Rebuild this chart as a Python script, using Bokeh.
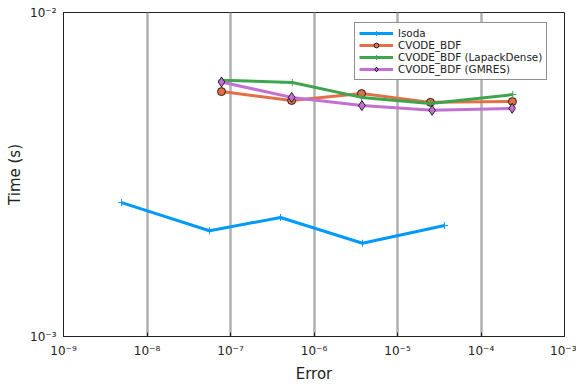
from bokeh.plotting import figure
from bokeh.models import Range1d, FixedTicker, CustomJSTickFormatter, Legend, LegendItem
from bokeh.embed import file_html
from bokeh.resources import INLINE

# Data
lsoda_err = [4.96e-9, 5.6e-8, 3.97e-7, 3.81e-6, 3.66e-5]
lsoda_time = [2.59e-3, 2.12e-3, 2.33e-3, 1.94e-3, 2.20e-3]

bdf_err = [7.8e-8, 5.4e-7, 3.71e-6, 2.48e-5, 2.38e-4]
bdf_time = [5.70e-3, 5.35e-3, 5.62e-3, 5.28e-3, 5.31e-3]

lapack_err = [7.8e-8, 5.5e-7, 3.71e-6, 2.48e-5, 2.40e-4]
lapack_time = [6.18e-3, 6.08e-3, 5.47e-3, 5.24e-3, 5.58e-3]

gmres_err = [7.8e-8, 5.4e-7, 3.75e-6, 2.6e-5, 2.36e-4]
gmres_time = [6.10e-3, 5.47e-3, 5.16e-3, 4.99e-3, 5.06e-3]

x_ticks = [1e-9, 1e-8, 1e-7, 1e-6, 1e-5, 1e-4, 1e-3]
y_ticks = [1e-3, 1e-2]

labels = ["lsoda", "CVODE_BDF", "CVODE_BDF (LapackDense)", "CVODE_BDF (GMRES)"]
colors = ["#009AFA", "#E36F47", "#3EA44E", "#C271D2"]

FONT = "DejaVu Sans"

p = figure(frame_width=501, frame_height=324, x_axis_type="log", y_axis_type="log",
           x_range=Range1d(1e-9, 1e-3), y_range=Range1d(1e-3, 1e-2),
           output_backend="svg", toolbar_location=None,
           min_border_left=63, min_border_right=12, min_border_top=12, min_border_bottom=48)

fmt = CustomJSTickFormatter(code="""
const sup = {"-":"\u207b","0":"\u2070","1":"\u00b9","2":"\u00b2","3":"\u00b3","4":"\u2074","5":"\u2075","6":"\u2076","7":"\u2077","8":"\u2078","9":"\u2079"};
const e = Math.round(Math.log10(tick));
return "10" + String(e).split("").map(c => sup[c]).join("");
""")

for ax in (p.xaxis[0], p.yaxis[0]):
    ax.formatter = fmt
    ax.minor_tick_line_color = None
    ax.major_tick_in = 4
    ax.major_tick_out = 0
    ax.axis_line_color = "#222222"
    ax.major_tick_line_color = "#222222"
    ax.major_label_text_font = FONT
    ax.major_label_text_font_size = "12px"
    ax.major_label_text_color = "#222222"
    ax.axis_label_text_font = FONT
    ax.axis_label_text_font_size = "15px"
    ax.axis_label_text_font_style = "normal"
    ax.axis_label_text_color = "#222222"

p.xaxis.ticker = FixedTicker(ticks=x_ticks)
p.yaxis.ticker = FixedTicker(ticks=y_ticks)
p.xaxis.axis_label = "Error"
p.yaxis.axis_label = "Time (s)"
p.xaxis.major_label_standoff = 7
p.yaxis.major_label_standoff = 7
p.xaxis.axis_label_standoff = 4
p.yaxis.axis_label_standoff = 3

p.xgrid.grid_line_color = "#b0b0b0"
p.xgrid.grid_line_width = 2.5
p.ygrid.grid_line_color = None
p.outline_line_color = "#222222"
p.outline_line_width = 1
p.outline_line_alpha = 1

lw = 3
r1l = p.line(lsoda_err, lsoda_time, line_color=colors[0], line_width=lw)
r1m = p.scatter(lsoda_err, lsoda_time, marker="cross", size=7, line_color=colors[0], line_width=1)

r2l = p.line(bdf_err, bdf_time, line_color=colors[1], line_width=lw)
r2m = p.scatter(bdf_err, bdf_time, marker="circle", size=8, fill_color=colors[1], line_color="black", line_width=0.8)

r3l = p.line(lapack_err, lapack_time, line_color=colors[2], line_width=lw)
r3m = p.scatter(lapack_err, lapack_time, marker="cross", size=7, line_color=colors[2], line_width=1)

r4l = p.line(gmres_err, gmres_time, line_color=colors[3], line_width=lw)
r4m = p.scatter(gmres_err, gmres_time, marker="diamond", size=10, fill_color=colors[3], line_color="black", line_width=0.8)

legend = Legend(items=[
    LegendItem(label=labels[0], renderers=[r1l, r1m]),
    LegendItem(label=labels[1], renderers=[r2l, r2m]),
    LegendItem(label=labels[2], renderers=[r3l, r3m]),
    LegendItem(label=labels[3], renderers=[r4l, r4m]),
], location=(291, 256))
legend.label_text_font = FONT
legend.label_text_font_size = "10.4px"
legend.label_text_color = "#222222"
legend.glyph_width = 34
legend.glyph_height = 12
legend.label_height = 12
legend.label_standoff = 5
legend.spacing = 0
legend.padding = 4
legend.margin = 0
legend.border_line_color = "#222222"
legend.border_line_width = 1
legend.background_fill_color = "white"
legend.background_fill_alpha = 1
p.add_layout(legend)

open("out.html", "w").write(file_html(p, INLINE))
